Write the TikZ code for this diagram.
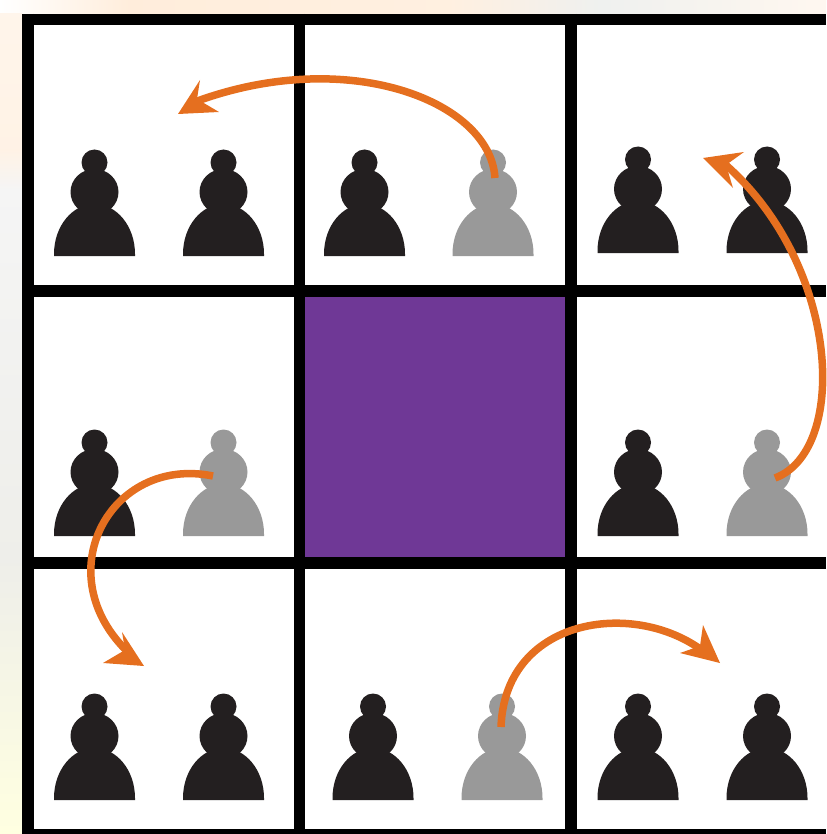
\documentclass[tikz,border=0pt]{standalone}
\definecolor{pawnblack}{HTML}{231F20}
\definecolor{pawngray}{HTML}{999999}
\definecolor{arroworange}{HTML}{E56F1F}
\definecolor{cellpurple}{HTML}{6F3896}
\tikzset{
  pawn/.pic={
    \fill[pic actions] (-40.5,-2) .. controls (-40.5,-30) and (-22,-52) .. (0,-52) .. controls (22,-52) and (40.5,-30) .. (40.5,-2)
      -- (40.5,0) -- (-40.5,0) -- cycle;
    \fill[pic actions] (0,-64) ellipse[x radius=24pt,y radius=23pt];
    \fill[pic actions] (0,-93.5) circle[radius=13pt];
    \fill[pic actions] (-8,-85) rectangle (8,-40);
  },
  gridline/.style={draw=black,line width=11.5pt},
  movearrow/.style={draw=arroworange,line width=7.5pt},
  arrowhead/.style={fill=arroworange}
}
\begin{document}
\begin{tikzpicture}[x=1pt,y=-1pt]
\useasboundingbox (0,0) rectangle (826,834);
% blurred background left of and above the grid
\fill[left color=white,right color=orange!14] (0,0) rectangle (130,14);
\fill[left color=orange!14,right color=orange!12] (130,0) rectangle (450,14);
\fill[left color=orange!12,right color=green!6!gray!12] (450,0) rectangle (600,14);
\fill[left color=green!6!gray!12,right color=orange!6] (600,0) rectangle (826,14);
\fill[top color=orange!8,bottom color=orange!10] (0,14) rectangle (22,150);
\fill[top color=orange!10,bottom color=gray!8] (0,150) rectangle (22,190);
\fill[top color=gray!8,bottom color=yellow!12!gray!15] (0,190) rectangle (22,560);
\fill[top color=yellow!12!gray!15,bottom color=yellow!12] (0,560) rectangle (22,834);
% purple cell
\fill[cellpurple] (299,291) rectangle (571,563);
% grid
\draw[gridline] (22,19.5) -- (826,19.5);
\draw[gridline] (22,291) -- (826,291);
\draw[gridline] (22,563) -- (826,563);
\draw[gridline] (22,834.5) -- (826,834.5);
\draw[gridline] (28,14) -- (28,834);
\draw[gridline] (299.5,14) -- (299.5,834);
\draw[gridline] (571,14) -- (571,834);
% pawns
\pic[fill=pawnblack] at (94.5,256) {pawn};
\pic[fill=pawnblack] at (223.5,256) {pawn};
\pic[fill=pawnblack] at (364.5,256) {pawn};
\pic[fill=pawngray] at (493,256) {pawn};
\pic[fill=pawnblack] at (638,253) {pawn};
\pic[fill=pawnblack] at (767,253) {pawn};
\pic[fill=pawnblack] at (94.5,536) {pawn};
\pic[fill=pawngray] at (223.5,536) {pawn};
\pic[fill=pawnblack] at (638,536) {pawn};
\pic[fill=pawngray] at (767,536) {pawn};
\pic[fill=pawnblack] at (94.5,800) {pawn};
\pic[fill=pawnblack] at (223.5,800) {pawn};
\pic[fill=pawnblack] at (373,800) {pawn};
\pic[fill=pawngray] at (502,800) {pawn};
\pic[fill=pawnblack] at (638,800) {pawn};
\pic[fill=pawnblack] at (767,800) {pawn};
% arrows
\coordinate (aS) at (495,178); \coordinate (aE) at (192,103);
\draw[movearrow] (aS) .. controls (490,100) and (345,45) .. (aE);
\fill[arrowhead] (178,114) -- (200,80) -- (197,99) -- (219,112) -- cycle;
\coordinate (bS) at (775,478); \coordinate (bE) at (720,160);
\draw[movearrow] (bS) .. controls (850,450) and (840,260) .. (bE);
\fill[arrowhead] (703,158) -- (744,152) -- (726,165) -- (733,188) -- cycle;
\coordinate (cS) at (213,476); \coordinate (cE) at (130,654);
\draw[movearrow] (cS) .. controls (110,455) and (45,575) .. (cE);
\fill[arrowhead] (144,666) -- (122,632) -- (125,650) -- (103,663) -- cycle;
\coordinate (dS) at (501,727); \coordinate (dE) at (708,655);
\draw[movearrow] (dS) .. controls (505,615) and (640,598) .. (dE);
\fill[arrowhead] (720,663) -- (703,625) -- (700,646) -- (680,653) -- cycle;
\end{tikzpicture}
\end{document}
